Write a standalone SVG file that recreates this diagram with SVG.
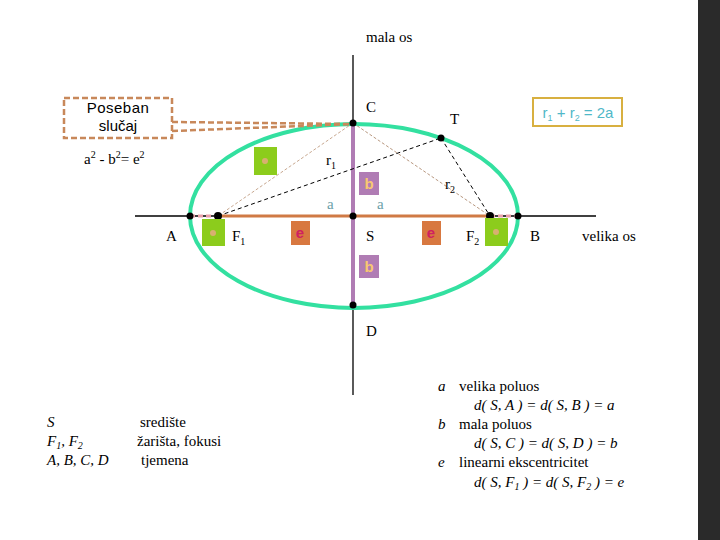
<svg xmlns="http://www.w3.org/2000/svg" width="720" height="540" viewBox="0 0 720 540">
<defs>
<style>
text{font-family:'Liberation Serif','Times New Roman',serif;font-size:15px}
.i{font-style:italic}
.s{font-family:'Liberation Sans',Arial,sans-serif}
.g{fill:#8ccc1c}
.p{fill:#b07cb4}
.o{fill:#d87840}
.d{fill:#000}
.bt{fill:#f8c870}
.et{fill:#d02060}
.ft{fill:#50b8c8}
.at{fill:#6aa0a8}
</style>
</defs>
<rect width="720" height="540" fill="#fff"/>
<rect x="698" y="0" width="22" height="540" fill="#2a2a2a"/>
<g id="axes" stroke="#000" stroke-width="1.3">
<line x1="353" y1="55" x2="353" y2="395"/>
<line x1="135" y1="216" x2="596" y2="216"/>
</g>
<g id="ellipse"><ellipse cx="354" cy="216" rx="164" ry="92" fill="none" stroke="#33e0a0" stroke-width="4"/></g>
<g id="connectors">
<line x1="353" y1="123" x2="353" y2="305" stroke="#b07cb4" stroke-width="4"/>
<line x1="218" y1="216" x2="490" y2="216" stroke="#d07a45" stroke-width="3"/>
<line x1="190" y1="216" x2="218" y2="216" stroke="#e8a0a8" stroke-width="3" stroke-dasharray="5,3"/>
<line x1="490" y1="216" x2="518" y2="216" stroke="#e8a0a8" stroke-width="3" stroke-dasharray="5,3"/>
<line x1="218" y1="216" x2="441" y2="138" stroke="#000" stroke-dasharray="4,3"/>
<line x1="441" y1="138" x2="490" y2="216" stroke="#000" stroke-dasharray="4,3"/>
<line x1="353" y1="123" x2="218" y2="216" stroke="#c8a890" stroke-dasharray="3,2"/>
<line x1="353" y1="123" x2="490" y2="216" stroke="#b89880" stroke-dasharray="3,2"/>
<path d="M172 122 L353 124 M172 131 L353 124" stroke="#c8885a" stroke-width="2.5" stroke-dasharray="6,3" fill="none"/>
</g>
<g id="points">
<circle cx="353" cy="123" r="3.5" class="d"/>
<circle cx="441" cy="138" r="3.5" class="d"/>
<circle cx="190" cy="216" r="3.5" class="d"/>
<circle cx="218" cy="216" r="4" class="d"/>
<circle cx="353" cy="216" r="3.5" class="d"/>
<circle cx="490" cy="216" r="4" class="d"/>
<circle cx="518" cy="216" r="3.5" class="d"/>
<circle cx="353" cy="305" r="3.5" class="d"/>
</g>
<g id="boxes">
<rect x="254" y="147" width="23" height="28" class="g"/><circle cx="265" cy="161" r="3" fill="#d8b070"/>
<rect x="202" y="219" width="23" height="27" class="g"/><circle cx="213" cy="233" r="3" fill="#d8b070"/>
<rect x="485" y="218" width="23" height="28" class="g"/><circle cx="496" cy="232" r="3" fill="#d8b070"/>
<rect x="359" y="172" width="20" height="23" class="p"/><text x="369" y="189" text-anchor="middle" class="s bt" font-size="13" font-weight="bold">b</text>
<rect x="359" y="255" width="20" height="23" class="p"/><text x="369" y="272" text-anchor="middle" class="s bt" font-size="13" font-weight="bold">b</text>
<rect x="291" y="221" width="19" height="24" class="o"/><text x="300" y="238" text-anchor="middle" class="s et" font-size="13" font-weight="bold">e</text>
<rect x="422" y="221" width="19" height="24" class="o"/><text x="431" y="238" text-anchor="middle" class="s et" font-size="13" font-weight="bold">e</text>
</g>
<g id="poseban">
<rect x="64" y="98" width="108" height="40" fill="#fff" stroke="#c8885a" stroke-width="2.5" stroke-dasharray="6,3"/>
<text x="118" y="113" text-anchor="middle" class="s" font-size="13" letter-spacing="0.5">Poseban</text>
<text x="118" y="131" text-anchor="middle" class="s" font-size="13">slučaj</text>
</g>
<g id="formula">
<rect x="533" y="98" width="89" height="28" fill="#fff" stroke="#d8b040" stroke-width="2"/>
<text x="578" y="118" text-anchor="middle" class="s ft" font-size="13">r<tspan font-size="9" dy="3">1</tspan><tspan dy="-3"> + r</tspan><tspan font-size="9" dy="3">2</tspan><tspan dy="-3">  = 2a</tspan></text>
</g>
<g id="labels">
<text x="366" y="42" font-size="14">mala os</text>
<text x="366" y="112">C</text>
<text x="450" y="124">T</text>
<text x="84" y="164">a<tspan font-size="10" dy="-6">2</tspan><tspan dy="6"> - b</tspan><tspan font-size="10" dy="-6">2</tspan><tspan dy="6">= e</tspan><tspan font-size="10" dy="-6">2</tspan></text>
<text x="326" y="165">r<tspan font-size="10" dy="4">1</tspan></text>
<text x="445" y="189">r<tspan font-size="10" dy="4">2</tspan></text>
<text x="327" y="209" font-size="13" class="at">a</text>
<text x="377" y="209" font-size="13" class="at">a</text>
<text x="166" y="241">A</text>
<text x="232" y="241">F<tspan font-size="10" dy="4">1</tspan></text>
<text x="366" y="241">S</text>
<text x="466" y="241">F<tspan font-size="10" dy="4">2</tspan></text>
<text x="530" y="241">B</text>
<text x="582" y="241">velika os</text>
<text x="366" y="336">D</text>
</g>
<g id="legend-left">
<text x="47" y="427" class="i">S</text>
<text x="47" y="446" class="i">F<tspan font-size="10" dy="3">1</tspan><tspan dy="-3">, F</tspan><tspan font-size="10" dy="3">2</tspan></text>
<text x="47" y="465" class="i">A, B, C, D</text>
<text x="140" y="427">središte</text>
<text x="137" y="446">žarišta, fokusi</text>
<text x="141" y="465">tjemena</text>
</g>
<g id="legend-right">
<text x="438" y="391" class="i">a</text><text x="459" y="391">velika poluos</text>
<text x="474" y="410" class="i">d( S, A ) = d( S, B ) = a</text>
<text x="438" y="429" class="i">b</text><text x="459" y="429">mala poluos</text>
<text x="474" y="448" class="i">d( S, C ) = d( S, D ) = b</text>
<text x="438" y="467" class="i">e</text><text x="459" y="467">linearni ekscentricitet</text>
<text x="474" y="487" class="i">d( S, F<tspan font-size="10" dy="3">1</tspan><tspan dy="-3"> ) = d( S, F</tspan><tspan font-size="10" dy="3">2</tspan><tspan dy="-3"> ) = e</tspan></text>
</g>
</svg>
